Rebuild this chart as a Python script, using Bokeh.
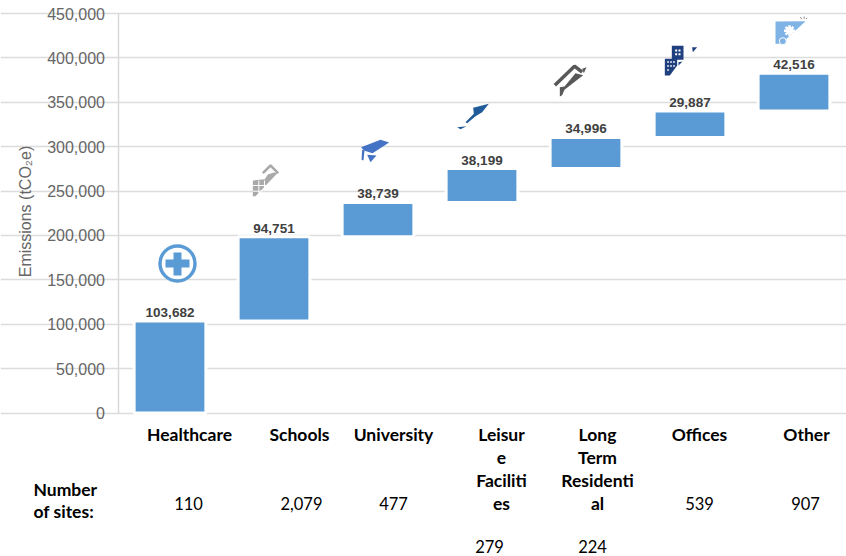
import math
from bokeh.plotting import figure
from bokeh.models import ColumnDataSource, NumeralTickFormatter, FixedTicker
from bokeh.core.properties import value
from bokeh.embed import file_html
from bokeh.resources import INLINE

categories = ["Healthcare", "Schools", "University", "Leisure Facilities", "Long Term Residential", "Offices", "Other"]
emissions = [103682, 94751, 38739, 38199, 34996, 29887, 42516]
sites = ["110", "2,079", "477", "279", "224", "539", "907"]
y_ticks = [0, 50000, 100000, 150000, 200000, 250000, 300000, 350000, 400000, 450000]

# layout (reference pixels)
cat_lines = [["Healthcare"], ["Schools"], ["University"], ["Leisur", "e", "Faciliti", "es"],
             ["Long", "Term", "Residenti", "al"], ["Offices"], ["Other"]]
cat_px = [189, 299, 393, 501, 597, 699, 806]
site_px = [(188, 503), (301, 503), (393, 503), (489, 546), (592, 546), (699, 503), (805, 503)]

W, H = 846, 556
L, T, B = 117.5, 13.0, 412.5
CAT_W = 104.0
def X(px): return (px - L) / CAT_W
def Y(py): return (B - py) / (B - T) * 450000

p = figure(width=W, height=H, output_backend="svg", toolbar_location=None,
           x_range=(X(0), X(W)), y_range=(Y(H), Y(0)),
           min_border=0, min_border_left=0, min_border_top=0, min_border_right=0, min_border_bottom=0,
           outline_line_color=None)
p.xaxis.visible = False
p.xgrid.visible = False
p.ygrid.grid_line_color = "#DCDCDC"
p.ygrid.grid_line_width = 1.5
p.ygrid.bounds = (0, X(W))
ax = p.yaxis[0]
ax.fixed_location = 0
ax.bounds = (0, 450000)
ax.ticker = FixedTicker(ticks=y_ticks)
ax.formatter = NumeralTickFormatter(format="0,0")
ax.axis_line_color = "#D9D9D9"
ax.axis_line_width = 1.5
ax.major_tick_line_color = None
ax.minor_tick_line_color = None
ax.major_tick_out = 0
ax.major_label_standoff = 13
ax.major_label_text_font = "Liberation Sans"
ax.major_label_text_font_size = "16px"
ax.major_label_text_color = "#666666"

bottoms, tops = [], []
total = 0
for v in emissions:
    bottoms.append(total)
    total += v
    tops.append(total)
centers = [i + 0.5 for i in range(len(emissions))]
src = ColumnDataSource(dict(x=centers, bottom=bottoms, top=tops,
                            label=[f"{v:,}" for v in emissions]))
p.vbar(x="x", bottom="bottom", top="top", width=0.69, source=src,
       fill_color="#5B9BD5", line_color="white", line_width=3)
p.text(x="x", y="top", text="label", source=src, text_align="center", text_baseline="bottom",
       y_offset=-4, text_font_size="13.5px", text_font_style="bold",
       text_color="#404040", text_font=value("Liberation Sans"))

def add(text, px, py, style="normal", align="center", size="16.5px", font="Lato", color="black", angle=0):
    p.text([X(px)], [Y(py)], text=[text], text_align=align, text_baseline="middle", angle=angle,
           text_font=value(font), text_font_size=size, text_font_style=style, text_color=color)

add("Emissions (tCO₂e)", 25, 211, size="16px", font="Liberation Sans", color="#666666", angle=math.pi / 2)
for lines, cx in zip(cat_lines, cat_px):
    for k, line in enumerate(lines):
        add(line, cx, 434 + 23 * k, style="bold", size="17.5px")
for s, (sx, sy) in zip(sites, site_px):
    add(s, sx, sy)
add("Number", 33, 489, style="bold", align="left", size="17.5px")
add("of  sites:", 33, 511, style="bold", align="left", size="17.5px")

# decorative pictograms, outlined in reference pixels
def poly(pts, color):
    p.patch([X(a) for a, b in pts], [Y(b) for a, b in pts], fill_color=color, line_color=None)
def path(pts, color, w):
    p.line([X(a) for a, b in pts], [Y(b) for a, b in pts], line_color=color, line_width=w)
def z1(pts): return [(130 + a / 3, 130 + b / 3) for a, b in pts]
def z2(pts): return [(440 + a / 3, b / 3) for a, b in pts]

# healthcare
blue = "#5B9BD5"
p.scatter([X(177)], [Y(263)], marker="circle", size=35, fill_color="white", line_color=blue, line_width=3.5)
poly([(173, 252), (181, 252), (181, 259), (189, 259), (189, 267), (181, 267), (181, 275),
      (173, 275), (173, 267), (165, 267), (165, 259), (173, 259)], blue)
# schools
g = "#A9A9A9"
poly(z1([(367, 150), (403, 146), (412, 132), (430, 126), (442, 127), (375, 197), (367, 197)]), g)
path(z1([(397, 128), (420, 105), (443, 128)]), g, 2.5)
for seg in ([(385, 150), (385, 197)], [(402, 150), (402, 180)], [(367, 165), (415, 165)], [(367, 182), (395, 182)]):
    path(z1(seg), "white", 1)
# university
c = "#4472C4"
poly(z1([(692, 50), (750, 28), (776, 36), (726, 68), (700, 60)]), c)
poly(z1([(695, 58), (702, 60), (699, 90), (693, 88)]), c)
poly(z1([(710, 73), (738, 75), (720, 95)]), c)
# leisure
c = "#1F5C99"
poly(z2([(98, 322), (145, 310), (125, 335), (105, 347), (80, 368), (75, 365), (100, 340)]), c)
poly(z2([(50, 380), (78, 377), (60, 386)]), c)
# long term residential
c = "#595959"
path(z2([(343, 254), (402, 197), (425, 215)]), c, 3.5)
poly(z2([(425, 205), (438, 200), (430, 218)]), c)
poly(z2([(358, 288), (358, 260), (372, 258), (405, 218), (428, 224), (372, 268), (365, 284)]), c)
# offices
c = "#1F3F7F"
poly(z2([(694, 136), (729, 136), (729, 178), (694, 178)]), c)
poly(z2([(673, 175), (710, 175), (710, 195), (688, 225), (673, 225)]), c)
poly(z2([(755, 140), (770, 140), (757, 155)]), c)
poly(z2([(714, 185), (726, 183), (714, 195)]), c)
for wx in (704, 714):
    for wy in (147, 158):
        poly(z2([(wx, wy), (wx + 6, wy), (wx + 6, wy + 6), (wx, wy + 6)]), "white")
for wx in (680, 689, 698):
    for wy in (182, 194, 206):
        if wx + wy < 895:
            poly(z2([(wx, wy), (wx + 5, wy), (wx + 5, wy + 5), (wx, wy + 5)]), "white")
# other
c = "#7FB2E5"
poly(z2([(1005, 63), (1095, 62), (1022, 130), (1005, 130)]), c)
p.scatter([X(440 + 1047 / 3)], [Y(91 / 3)], marker="circle", size=7, fill_color="white", line_color=None)
p.scatter([X(440 + 1047 / 3)], [Y(91 / 3)], marker="asterisk", size=11, line_color="white", line_width=2.5)
p.scatter([X(440 + 1027 / 3)], [Y(122 / 3)], marker="circle", size=7, fill_color=c, line_color="white", line_width=1)
for seg in ([(1080, 50), (1083, 56)], [(1091, 48), (1091, 55)], [(1100, 52), (1096, 56)]):
    path(z2(seg), "#8a8a8a", 1)

open("out.html", "w").write(file_html(p, INLINE))
